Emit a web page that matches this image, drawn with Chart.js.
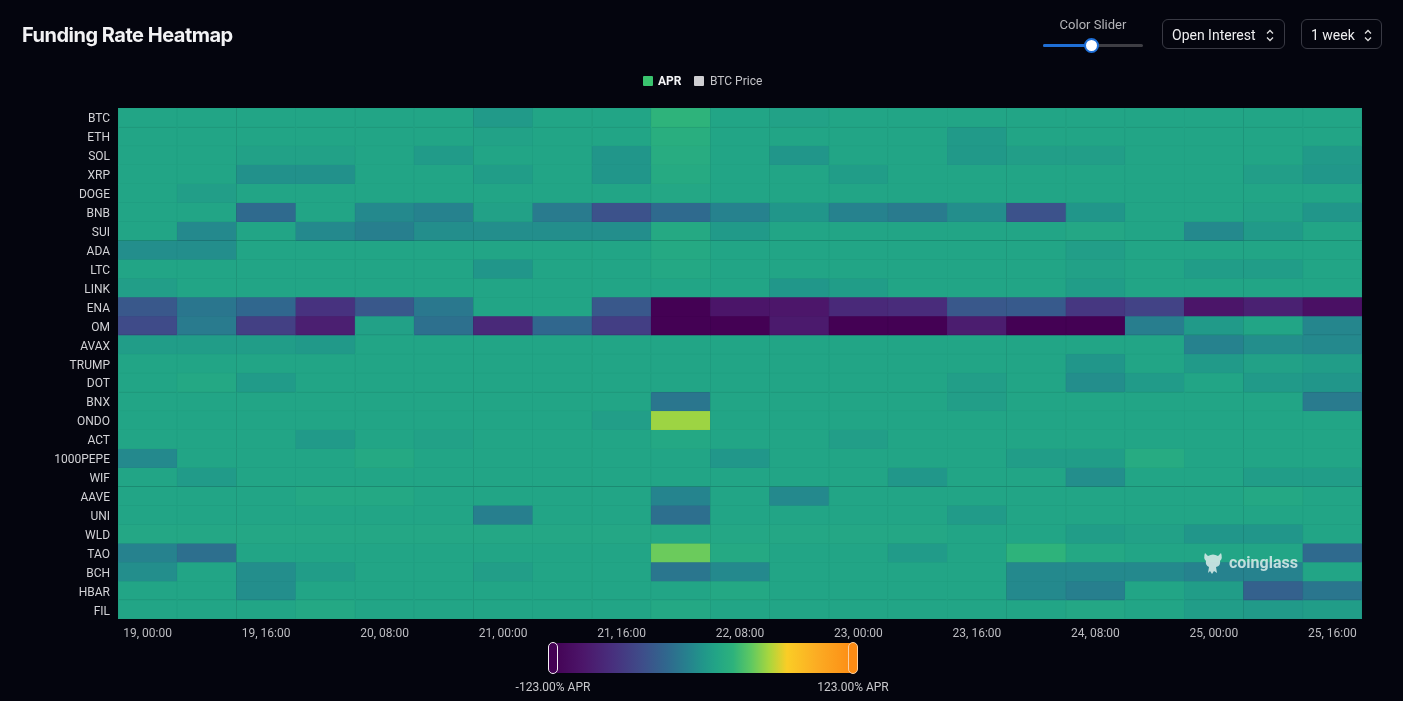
<!DOCTYPE html>
<html>
<head>
<meta charset="utf-8">
<script src="https://cdn.jsdelivr.net/npm/chart.js@4.4.1/dist/chart.umd.min.js"></script>
<style>
html,body{margin:0;padding:0;background:#04050e;width:1403px;height:701px;overflow:hidden;font-family:Inter,Roboto,"Noto Sans",sans-serif;}
#wrap{position:relative;width:1403px;height:701px;}
#c{position:absolute;left:0;top:0;}
.title{position:absolute;left:22px;top:22px;font-size:20px;font-weight:700;color:#f2f2f4;letter-spacing:-0.5px;line-height:26px;}
.sliderLabel{position:absolute;left:1043px;width:100px;top:17px;text-align:center;font-size:13px;color:#b4b4b8;font-family:Roboto,Inter,sans-serif;}
.track{position:absolute;left:1043px;top:44px;width:100px;height:3px;background:#3e3e44;border-radius:2px;}
.fill{position:absolute;left:1043px;top:44px;width:48px;height:3px;background:#1f6fd6;border-radius:2px;}
.knob{position:absolute;left:1084px;top:38px;width:11px;height:11px;border-radius:50%;background:#fff;border:2px solid #1f6fd6;}
.btn{position:absolute;top:19px;height:30px;border:1px solid #393a44;border-radius:6px;color:#eeeef0;font-size:14px;line-height:30px;font-family:Roboto,Inter,sans-serif;box-sizing:border-box;padding-left:9px;}
.btn svg{position:absolute;top:9px;}
.legend{position:absolute;top:74px;font-size:12px;font-family:Roboto,Inter,sans-serif;line-height:14px;}
.sw{position:absolute;top:2px;width:10px;height:10px;border-radius:1px;}
.cbar{position:absolute;left:553px;top:643px;width:300px;height:30px;}
.handle{position:absolute;top:642px;width:8px;height:30px;border-radius:5px;border:1.5px solid #f4f0f4;}
.cblab{position:absolute;top:680px;font-size:12px;color:#c8c8cc;font-family:Roboto,Inter,sans-serif;width:120px;text-align:center;}
.wm{position:absolute;left:1202px;top:550px;color:rgba(210,232,230,0.9);font-size:16px;font-weight:700;font-family:Roboto,Inter,sans-serif;}
</style>
</head>
<body>
<div id="wrap">
<canvas id="c" width="1403" height="701"></canvas>
<div class="title">Funding Rate Heatmap</div>
<div class="sliderLabel">Color Slider</div>
<div class="track"></div><div class="fill"></div><div class="knob"></div>
<div class="btn" style="left:1162px;width:123px;">Open Interest<svg style="left:103px" width="8" height="13" viewBox="0 0 8 13"><path d="M1 4.5 L4 1.5 L7 4.5 M1 8.5 L4 11.5 L7 8.5" stroke="#ddd" stroke-width="1.3" fill="none"/></svg></div>
<div class="btn" style="left:1301px;width:81px;">1 week<svg style="left:62px" width="8" height="13" viewBox="0 0 8 13"><path d="M1 4.5 L4 1.5 L7 4.5 M1 8.5 L4 11.5 L7 8.5" stroke="#ddd" stroke-width="1.3" fill="none"/></svg></div>
<div class="legend" style="left:643px;"><span class="sw" style="left:0;background:#3ac46e"></span><span style="position:absolute;left:15px;color:#f4f4f6;font-weight:700;">APR</span></div>
<div class="legend" style="left:694px;"><span class="sw" style="left:0;background:#cfcfd2"></span><span style="position:absolute;left:16px;color:#c4c4c8;white-space:nowrap;">BTC Price</span></div>
<div class="cbar" id="cbar"></div>
<div class="handle" style="left:548px;background:#440154;"></div>
<div class="handle" style="left:848px;background:#fd8c14;border-color:#fbd0a0;"></div>
<div class="cblab" style="left:493px;">-123.00% APR</div>
<div class="cblab" style="left:793px;">123.00% APR</div>
<div class="wm"><svg width="22" height="26" viewBox="0 0 22 26" style="position:absolute;left:0;top:0"><path d="M3 3 L6 6 Q11 3 16 6 L19 3 Q21 8 18 11 Q19 16 14 17 L15 23 L12 21 L10 24 L8 21 L6 23 L7 17 Q3 15 4 11 Q1 8 3 3 Z" fill="rgba(210,232,230,0.9)"/></svg><span style="position:absolute;left:27px;top:3px;">coinglass</span></div>
</div>
<script>
// ---- categories ----
const timeLabels = ['19, 00:00','19, 08:00','19, 16:00','20, 00:00','20, 08:00','20, 16:00','21, 00:00','21, 08:00','21, 16:00','22, 00:00','22, 08:00','22, 16:00','23, 00:00','23, 08:00','23, 16:00','24, 00:00','24, 08:00','24, 16:00','25, 00:00','25, 08:00','25, 16:00'];
const symbols = ['BTC','ETH','SOL','XRP','DOGE','BNB','SUI','ADA','LTC','LINK','ENA','OM','AVAX','TRUMP','DOT','BNX','ONDO','ACT','1000PEPE','WIF','AAVE','UNI','WLD','TAO','BCH','HBAR','FIL'];
// ---- APR values (%) per symbol ----
const BTC  = [11,11,11,11,11,11,3,11,11,25,11,9,11,11,11,11,11,11,11,11,11];
const ETH  = [11,11,11,11,11,11,9,11,11,20,11,11,11,11,3,11,11,11,11,11,11];
const SOL  = [11,11,8,8,11,4,11,11,0,18,11,0,11,11,2,6,6,11,11,11,3];
const XRP  = [11,11,-3,-3,11,11,5,11,0,16,11,11,5,11,11,11,11,11,11,6,1];
const DOGE = [11,6,11,11,11,11,11,11,11,13,11,11,11,11,11,11,11,11,11,11,11];
const BNB  = [11,11,-28,11,-8,-12,8,-17,-46,-28,-12,0,-12,-17,-5,-46,0,11,11,9,0];
const SUI  = [11,-8,11,-8,-14,-5,-5,-5,-5,15,3,11,11,11,11,11,13,11,-8,3,11];
const ADA  = [-5,-5,11,11,11,11,11,11,11,15,11,11,11,11,11,11,6,11,11,11,11];
const LTC  = [11,11,11,11,11,11,0,11,11,14,11,11,11,11,11,11,8,11,5,5,11];
const LINK = [6,11,11,11,11,11,11,11,11,11,11,1,5,11,11,11,5,11,11,11,11];
const ENA  = [-42,-20,-30,-72,-42,-19,11,11,-42,-123,-100,-98,-80,-78,-42,-40,-68,-58,-100,-88,-105];
const OM   = [-52,-17,-61,-90,8,-24,-80,-30,-62,-123,-123,-95,-123,-123,-92,-123,-123,-15,3,11,-10];
const AVAX = [5,5,5,2,11,11,11,11,11,11,11,11,11,11,11,11,11,11,-12,-5,-8];
const TRUMP= [11,11,11,11,11,11,11,11,11,11,11,11,11,11,11,11,0,11,3,8,5];
const DOT  = [11,14,4,11,11,11,11,11,11,11,11,11,11,11,6,11,-5,4,11,3,0];
const BNX  = [11,11,11,11,11,11,11,11,11,-20,11,11,11,11,6,11,11,11,11,11,-17];
const ONDO = [11,11,11,11,11,11,11,11,6,52,11,11,11,11,11,11,11,11,11,11,11];
const ACT  = [11,11,11,3,11,8,11,11,11,14,11,11,6,11,11,11,11,11,11,11,11];
const PEPE1000 = [-8,11,11,11,15,11,11,11,11,11,1,11,11,11,11,5,5,17,11,11,11];
const WIF  = [11,4,11,11,11,11,11,11,11,11,11,11,11,1,11,11,-5,11,11,5,5];
const AAVE = [11,11,11,14,14,11,11,11,11,-11,11,-8,11,11,11,11,11,11,11,14,11];
const UNI  = [11,11,11,11,11,11,-14,11,11,-25,11,11,11,11,4,11,11,11,11,11,11];
const WLD  = [13,13,13,13,13,13,13,13,13,13,13,13,13,13,11,11,5,8,0,0,11];
const TAO  = [-12,-25,11,11,11,11,11,11,11,42,15,11,11,4,11,25,14,11,11,11,-28];
const BCH  = [-5,11,-5,5,11,11,6,11,11,-20,-8,11,11,11,11,-8,-8,-8,-12,-12,11];
const HBAR = [11,11,-5,11,11,11,11,11,11,11,14,11,11,11,11,-8,-14,11,5,-35,-20];
const FIL  = [11,11,11,14,11,11,11,11,11,14,11,11,11,11,11,11,13,11,5,3,5];
const rows = [BTC,ETH,SOL,XRP,DOGE,BNB,SUI,ADA,LTC,LINK,ENA,OM,AVAX,TRUMP,DOT,BNX,ONDO,ACT,PEPE1000,WIF,AAVE,UNI,WLD,TAO,BCH,HBAR,FIL];
const aprMin = -123, aprMax = 123;

// ---- colour scale ----
const stops = [
 [0.00,[68,1,84]],[0.10,[76,22,106]],[0.20,[72,48,126]],[0.30,[62,78,138]],
 [0.38,[48,104,142]],[0.45,[38,130,142]],[0.50,[33,150,138]],[0.545,[34,165,134]],
 [0.60,[45,178,124]],[0.66,[94,200,98]],[0.72,[168,214,62]],[0.78,[250,205,38]],
 [0.88,[252,172,35]],[1.00,[253,140,20]]];
function rgbAt(f){
  f=Math.max(0,Math.min(1,f));
  for(let i=1;i<stops.length;i++){
    if(f<=stops[i][0]){
      const [f0,c0]=stops[i-1],[f1,c1]=stops[i];
      const t=(f-f0)/(f1-f0);
      return c0.map((v,k)=>v+(c1[k]-v)*t);
    }
  }
  return stops[stops.length-1][1];
}
const css = (c,k=1)=>`rgb(${Math.round(c[0]*k)},${Math.round(c[1]*k)},${Math.round(c[2]*k)})`;
const fracOf = v => (v-aprMin)/(aprMax-aprMin);
document.getElementById('cbar').style.background='linear-gradient(to right,'+stops.map(s=>`rgb(${s[1].join(',')}) ${s[0]*100}%`).join(',')+')';

Chart.defaults.font.family='Roboto, Inter, "Noto Sans", sans-serif';
const datasets = rows.map((vals,r)=>({
  label: symbols[r],
  data: vals.map(()=>[r, r+1]),
  backgroundColor: vals.map(v=>css(rgbAt(fracOf(v)))),
  borderColor: vals.map(v=>css(rgbAt(fracOf(v)),0.96)),
  borderWidth: 0.6,
  borderSkipped: false,
  barPercentage: 1,
  categoryPercentage: 1,
  grouped: false
}));

new Chart(document.getElementById('c'), {
  type: 'bar',
  data: { labels: timeLabels, datasets },
  options: {
    responsive: false,
    animation: false,
    layout: { padding: { top: 108, right: 41, bottom: 52, left: 0 } },
    plugins: { legend: { display: false }, tooltip: { enabled: false } },
    scales: {
      x: {
        type: 'category',
        offset: true,
        grid: { display: false },
        border: { display: false },
        ticks: { autoSkip: false, maxRotation: 0, padding: 0, color: '#bdbdc2', font: { size: 12 },
          callback: (v,i)=> i%2===0 ? timeLabels[i] : '' },
        afterFit: s => { s.height = 30; }
      },
      y: {
        type: 'linear',
        reverse: true,
        min: 0, max: symbols.length,
        grid: { display: false },
        border: { display: false },
        afterBuildTicks: s => { s.ticks = symbols.map((n,i)=>({ value: i+0.5 })); },
        ticks: { padding: 0, labelOffset: 2, color: '#d2d2d6', font: { size: 12 },
          callback: v => symbols[Math.floor(v)] },
        afterFit: s => { s.width = 118; }
      }
    }
  }
});
</script>
</body>
</html>
